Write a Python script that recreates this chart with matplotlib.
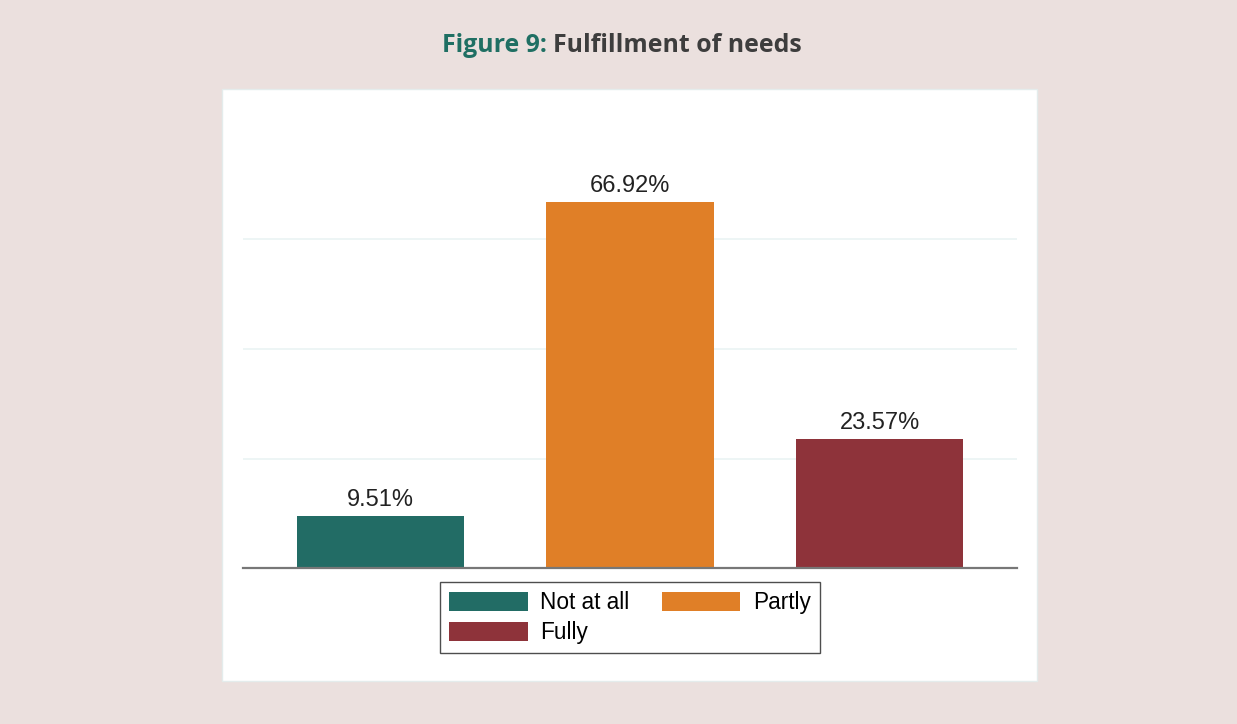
import matplotlib.pyplot as plt
from matplotlib.patches import Rectangle, Patch

categories = ['Not at all', 'Partly', 'Fully']
values = [9.51, 66.92, 23.57]
colors = ['#226c65', '#e07f27', '#8e333a']
gridlines = [20, 40, 60]

W, H = 1237, 724
fig = plt.figure(figsize=(W / 100, H / 100), dpi=100)
fig.patch.set_facecolor('#ebe0de')

# white card behind the plot
fig.add_artist(Rectangle((222 / W, 1 - 681 / H), (1037 - 222) / W, (681 - 89) / H,
                         transform=fig.transFigure, facecolor='white',
                         edgecolor='#e4ecec', lw=1, zorder=0))

ax = fig.add_axes([243 / W, 1 - 568 / H, (1017 - 243) / W, (568 - 130) / H])
ax.set_facecolor('none')
x = [1, 2, 3]
bars = ax.bar(x, values, width=0.67, color=colors, zorder=3)
ax.set_xlim(0.449, 3.551)
ax.set_ylim(0, 80)
for g in gridlines:
    ax.axhline(g, color='#eaf3f3', lw=1.2, zorder=1)

for b, v in zip(bars, values):
    ax.annotate(f'{v:.2f}%', (b.get_x() + b.get_width() / 2, v),
                xytext=(0, 7), textcoords='offset points', ha='center', va='baseline',
                fontsize=17, family='Liberation Sans', color='#222222')

for s in ['top', 'left', 'right']:
    ax.spines[s].set_visible(False)
ax.spines['bottom'].set_color('#777777')
ax.spines['bottom'].set_linewidth(1.6)
ax.spines['bottom'].set_zorder(4)
ax.set_xticks([])
ax.set_yticks([])

# legend filled row-wise: Not at all, Partly / Fully
handles = [Patch(facecolor=c) for c in colors]
order = [0, 2, 1]
leg = fig.legend([handles[i] for i in order], [categories[i] for i in order],
                 ncol=2, loc='center', bbox_to_anchor=(630 / W, 1 - 617.5 / H),
                 prop={'family': 'Liberation Sans', 'size': 16.3},
                 frameon=True, fancybox=False, edgecolor='#222222',
                 handlelength=3.45, handleheight=0.92, handletextpad=0.55,
                 columnspacing=1.45, labelspacing=0.32, borderpad=0.4,
                 borderaxespad=0)
leg.get_frame().set_linewidth(1.0)

# two-colour title
renderer = fig.canvas.get_renderer()
title_y = 1 - 52 / H
t1 = fig.text(0, title_y, 'Figure 9: ', fontsize=17.9, fontweight='bold',
              family='Open Sans', color='#1f6f63', va='baseline')
t2 = fig.text(0, title_y, 'Fulfillment of needs', fontsize=17.9, fontweight='bold',
              family='Open Sans', color='#3d3d3d', va='baseline')
w1 = t1.get_window_extent(renderer).width
w2 = t2.get_window_extent(renderer).width
left = 622 - (w1 + w2) / 2
t1.set_x(left / W)
t2.set_x((left + w1) / W)

fig.savefig('out.png', dpi=100, facecolor=fig.get_facecolor())
